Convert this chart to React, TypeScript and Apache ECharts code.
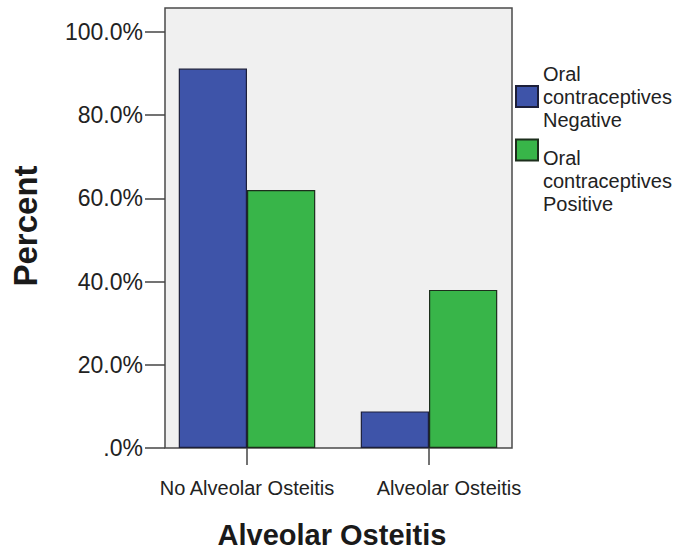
import React, { useEffect, useRef } from "react";
import * as echarts from "echarts";

const categories = ["No Alveolar Osteitis", "Alveolar Osteitis"];
const seriesNames = ["Oral\ncontraceptives\nNegative", "Oral\ncontraceptives\nPositive"];
const negativeValues = [91.2, 8.8];
const positiveValues = [62.0, 38.0];
const yTicks = [0, 20, 40, 60, 80, 100];
const xTitle = "Alveolar Osteitis";
const yTitle = "Percent";

const FONT = "'Liberation Sans', Arial, sans-serif";

export default function App() {
  const ref = useRef<HTMLDivElement>(null);
  useEffect(() => {
    if (!ref.current) return;
    const chart = echarts.init(ref.current, null, { renderer: "svg" });
    chart.setOption({
      animation: false,
      backgroundColor: "#ffffff",
      textStyle: { fontFamily: FONT },
      graphic: [
        {
          type: "rect",
          z: -10,
          silent: true,
          shape: { x: 165, y: 8, width: 347, height: 440 },
          style: { fill: "#f0f0f0", stroke: "#4a4a4a", lineWidth: 1.5 },
        },
        {
          type: "text",
          x: 332,
          y: 535,
          style: {
            text: xTitle,
            font: `bold 29px ${FONT}`,
            fill: "#1a1a1a",
            align: "center",
            verticalAlign: "middle",
          },
        },
        {
          type: "text",
          x: 25,
          y: 226,
          rotation: Math.PI / 2,
          style: {
            text: yTitle,
            font: `bold 33px ${FONT}`,
            fill: "#1a1a1a",
            align: "center",
            verticalAlign: "middle",
          },
        },
      ],
      grid: { left: 156, right: 159, top: 32, bottom: 102, containLabel: false },
      legend: [
        {
          data: [seriesNames[0]],
          orient: "vertical",
          left: 515,
          top: 62,
          padding: 0,
          itemWidth: 22,
          itemHeight: 21,
          itemGap: 0,
          icon: "rect",
          selectedMode: false,
          textStyle: { fontSize: 20, lineHeight: 23, color: "#222", fontFamily: FONT },
        },
        {
          data: [seriesNames[1]],
          orient: "vertical",
          left: 515,
          top: 85,
          padding: 0,
          itemWidth: 22,
          itemHeight: 21,
          itemGap: 0,
          icon: "rect",
          selectedMode: false,
          formatter: (name: string) =>
            "{gap| }\n" + name.split("\n").map((l) => "{t|" + l + "}").join("\n"),
          textStyle: {
            fontSize: 20,
            lineHeight: 23,
            color: "#222",
            fontFamily: FONT,
            rich: {
              gap: { fontSize: 10, lineHeight: 61, height: 61 },
              t: { fontSize: 20, lineHeight: 23, color: "#222", fontFamily: FONT },
            },
          },
        },
      ],
      xAxis: {
        type: "category",
        data: categories.map((c, i) =>
          i === 1 ? { value: c, textStyle: { padding: [0, 0, 0, 40] } } : c
        ),
        axisLine: { show: false },
        axisTick: {
          show: true,
          alignWithLabel: true,
          interval: 0,
          length: 17,
          lineStyle: { color: "#444", width: 1.5 },
        },
        axisLabel: { fontSize: 20, color: "#222", margin: 30, interval: 0, fontFamily: FONT },
      },
      yAxis: {
        type: "value",
        min: 0,
        max: 100,
        interval: 20,
        offset: -9,
        splitLine: { show: false },
        axisLine: { show: false },
        axisTick: { show: true, length: 20, lineStyle: { color: "#444", width: 1.5 } },
        axisLabel: {
          fontSize: 23,
          color: "#222",
          margin: 22,
          fontFamily: FONT,
          formatter: (v: number) => (v === 0 ? ".0%" : v.toFixed(1) + "%"),
          customValues: yTicks,
        },
      },
      series: [
        {
          name: seriesNames[0],
          type: "bar",
          data: negativeValues,
          barGap: "0%",
          barCategoryGap: "25%",
          itemStyle: { color: "#3e54a9", borderColor: "#1c1f3a", borderWidth: 1.2 },
        },
        {
          name: seriesNames[1],
          type: "bar",
          data: positiveValues,
          barGap: "0%",
          barCategoryGap: "25%",
          itemStyle: { color: "#38b549", borderColor: "#1c2e1c", borderWidth: 1.2 },
        },
      ],
    });
    return () => chart.dispose();
  }, []);
  return <div ref={ref} style={{ width: 679, height: 550, position: "absolute", left: 0, top: 0 }} />;
}
